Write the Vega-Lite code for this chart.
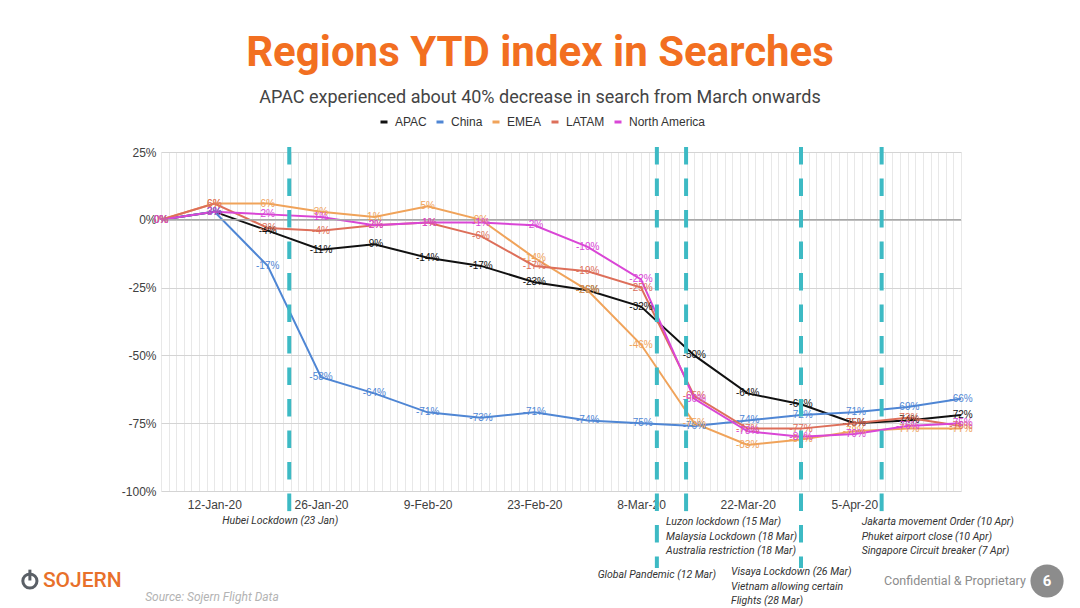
{
  "$schema": "https://vega.github.io/schema/vega-lite/v6.json",
  "width": 800,
  "height": 339,
  "autosize": {"type": "none"},
  "padding": {"left": 161, "top": 152, "right": 119, "bottom": 117},
  "background": "white",
  "title": {
    "text": "Regions YTD index in Searches",
    "subtitle": "APAC experienced about 40% decrease in search from March onwards",
    "anchor": "middle",
    "dx": -21,
    "offset": 8,
    "font": "Roboto",
    "fontSize": 42,
    "fontWeight": "bold",
    "color": "#f26f21",
    "subtitleFont": "Roboto",
    "subtitleFontSize": 18,
    "subtitleColor": "#444444",
    "subtitlePadding": 14
  },
  "config": {
    "locale": {"number": {"decimal": ".", "thousands": ",", "grouping": [3], "currency": ["$", ""], "minus": "-"}},
    "view": {"stroke": null},
    "font": "Liberation Sans",
    "legend": {
      "orient": "none",
      "legendX": 217,
      "legendY": -36,
      "direction": "horizontal",
      "symbolType": "stroke",
      "symbolSize": 49,
      "symbolStrokeWidth": 3,
      "labelFont": "Liberation Sans",
      "labelFontSize": 12,
      "labelColor": "#333333",
      "labelOffset": 5,
      "columnPadding": 3,
      "title": null
    }
  },
  "datasets": {
    "series": [
      {"date": "2020-01-05", "region": "APAC", "v": 0},
      {"date": "2020-01-12", "region": "APAC", "v": 0.03},
      {"date": "2020-01-19", "region": "APAC", "v": -0.04},
      {"date": "2020-01-26", "region": "APAC", "v": -0.11},
      {"date": "2020-02-02", "region": "APAC", "v": -0.09},
      {"date": "2020-02-09", "region": "APAC", "v": -0.14},
      {"date": "2020-02-16", "region": "APAC", "v": -0.17},
      {"date": "2020-02-23", "region": "APAC", "v": -0.23},
      {"date": "2020-03-01", "region": "APAC", "v": -0.26},
      {"date": "2020-03-08", "region": "APAC", "v": -0.32},
      {"date": "2020-03-15", "region": "APAC", "v": -0.50},
      {"date": "2020-03-22", "region": "APAC", "v": -0.64},
      {"date": "2020-03-29", "region": "APAC", "v": -0.68},
      {"date": "2020-04-05", "region": "APAC", "v": -0.75},
      {"date": "2020-04-12", "region": "APAC", "v": -0.74},
      {"date": "2020-04-19", "region": "APAC", "v": -0.72},
      {"date": "2020-01-05", "region": "China", "v": 0},
      {"date": "2020-01-12", "region": "China", "v": 0.03},
      {"date": "2020-01-19", "region": "China", "v": -0.17},
      {"date": "2020-01-26", "region": "China", "v": -0.58},
      {"date": "2020-02-02", "region": "China", "v": -0.64},
      {"date": "2020-02-09", "region": "China", "v": -0.71},
      {"date": "2020-02-16", "region": "China", "v": -0.73},
      {"date": "2020-02-23", "region": "China", "v": -0.71},
      {"date": "2020-03-01", "region": "China", "v": -0.74},
      {"date": "2020-03-08", "region": "China", "v": -0.75},
      {"date": "2020-03-15", "region": "China", "v": -0.76},
      {"date": "2020-03-22", "region": "China", "v": -0.74},
      {"date": "2020-03-29", "region": "China", "v": -0.72},
      {"date": "2020-04-05", "region": "China", "v": -0.71},
      {"date": "2020-04-12", "region": "China", "v": -0.69},
      {"date": "2020-04-19", "region": "China", "v": -0.66},
      {"date": "2020-01-05", "region": "EMEA", "v": 0},
      {"date": "2020-01-12", "region": "EMEA", "v": 0.06},
      {"date": "2020-01-19", "region": "EMEA", "v": 0.06},
      {"date": "2020-01-26", "region": "EMEA", "v": 0.03},
      {"date": "2020-02-02", "region": "EMEA", "v": 0.01},
      {"date": "2020-02-09", "region": "EMEA", "v": 0.05},
      {"date": "2020-02-16", "region": "EMEA", "v": 0.00},
      {"date": "2020-02-23", "region": "EMEA", "v": -0.14},
      {"date": "2020-03-01", "region": "EMEA", "v": -0.26},
      {"date": "2020-03-08", "region": "EMEA", "v": -0.46},
      {"date": "2020-03-15", "region": "EMEA", "v": -0.75},
      {"date": "2020-03-22", "region": "EMEA", "v": -0.83},
      {"date": "2020-03-29", "region": "EMEA", "v": -0.81},
      {"date": "2020-04-05", "region": "EMEA", "v": -0.78},
      {"date": "2020-04-12", "region": "EMEA", "v": -0.77},
      {"date": "2020-04-19", "region": "EMEA", "v": -0.77},
      {"date": "2020-01-05", "region": "LATAM", "v": 0},
      {"date": "2020-01-12", "region": "LATAM", "v": 0.06},
      {"date": "2020-01-19", "region": "LATAM", "v": -0.03},
      {"date": "2020-01-26", "region": "LATAM", "v": -0.04},
      {"date": "2020-02-02", "region": "LATAM", "v": -0.02},
      {"date": "2020-02-09", "region": "LATAM", "v": -0.01},
      {"date": "2020-02-16", "region": "LATAM", "v": -0.06},
      {"date": "2020-02-23", "region": "LATAM", "v": -0.17},
      {"date": "2020-03-01", "region": "LATAM", "v": -0.19},
      {"date": "2020-03-08", "region": "LATAM", "v": -0.25},
      {"date": "2020-03-15", "region": "LATAM", "v": -0.65},
      {"date": "2020-03-22", "region": "LATAM", "v": -0.77},
      {"date": "2020-03-29", "region": "LATAM", "v": -0.77},
      {"date": "2020-04-05", "region": "LATAM", "v": -0.75},
      {"date": "2020-04-12", "region": "LATAM", "v": -0.73},
      {"date": "2020-04-19", "region": "LATAM", "v": -0.76},
      {"date": "2020-01-05", "region": "North America", "v": 0},
      {"date": "2020-01-12", "region": "North America", "v": 0.03},
      {"date": "2020-01-19", "region": "North America", "v": 0.02},
      {"date": "2020-01-26", "region": "North America", "v": 0.01},
      {"date": "2020-02-02", "region": "North America", "v": -0.02},
      {"date": "2020-02-09", "region": "North America", "v": -0.01},
      {"date": "2020-02-16", "region": "North America", "v": -0.01},
      {"date": "2020-02-23", "region": "North America", "v": -0.02},
      {"date": "2020-03-01", "region": "North America", "v": -0.10},
      {"date": "2020-03-08", "region": "North America", "v": -0.22},
      {"date": "2020-03-15", "region": "North America", "v": -0.66},
      {"date": "2020-03-22", "region": "North America", "v": -0.78},
      {"date": "2020-03-29", "region": "North America", "v": -0.80},
      {"date": "2020-04-05", "region": "North America", "v": -0.79},
      {"date": "2020-04-12", "region": "North America", "v": -0.76},
      {"date": "2020-04-19", "region": "North America", "v": -0.75}
    ],
    "events": [
      {"key": "hubei", "date": "2020-01-21T20:00:00Z", "note": "Hubei Lockdown (23 Jan)"},
      {"key": "global", "date": "2020-03-10T02:00:00Z", "note": "Global Pandemic (12 Mar)"},
      {"key": "luzon", "date": "2020-03-13T22:00:00Z", "note": "Luzon lockdown (15 Mar)\nMalaysia Lockdown (18 Mar)\nAustralia restriction (18 Mar)"},
      {"key": "visaya", "date": "2020-03-29T00:00:00Z", "note": "Visaya Lockdown (26 Mar)\nVietnam allowing certain\nFlights (28 Mar)"},
      {"key": "jakarta", "date": "2020-04-08T14:00:00Z", "note": "Jakarta movement Order (10 Apr)\nPhuket airport close (10 Apr)\nSingapore Circuit breaker (7 Apr)"}
    ],
    "one": [{}]
  },
  "resolve": {"legend": {"color": "independent"}},
  "layer": [
    {
      "data": {"name": "series"},
      "mark": {"type": "line", "strokeWidth": 2},
      "encoding": {
        "x": {
          "field": "date",
          "type": "temporal",
          "scale": {
            "type": "utc",
            "domain": [
              {"year": 2020, "month": 1, "date": 5, "utc": true},
              {"year": 2020, "month": 4, "date": 19, "utc": true}
            ],
            "nice": false
          },
          "axis": {
            "title": null,
            "tickCount": {"interval": "day", "step": 1},
            "labelExpr": "(datum.value < 1587254400000 && round((datum.value - 1578787200000) / 86400000) % 14 === 0) ? utcFormat(datum.value, '%-d-%b-%y') : ''",
            "labelOverlap": false,
            "labelFlush": false,
            "labelBound": false,
            "labelFont": "Liberation Sans",
            "labelFontSize": 12,
            "labelColor": "#404040",
            "labelPadding": 8,
            "ticks": false,
            "domain": false,
            "grid": true,
            "gridColor": "#e8e8e8",
            "gridWidth": 1
          }
        },
        "y": {
          "field": "v",
          "type": "quantitative",
          "scale": {"domain": [-1, 0.25], "nice": false, "zero": false},
          "axis": {
            "title": null,
            "values": [-1, -0.75, -0.5, -0.25, 0, 0.25],
            "format": ".0%",
            "labelFont": "Liberation Sans",
            "labelFontSize": 12,
            "labelColor": "#404040",
            "labelPadding": 5,
            "ticks": false,
            "domain": false,
            "gridColor": "#d4d4d4",
            "gridWidth": 1
          }
        },
        "color": {
          "field": "region",
          "type": "nominal",
          "scale": {
            "domain": ["APAC", "China", "EMEA", "LATAM", "North America"],
            "range": ["#111111", "#4f86d4", "#f0a35a", "#dd6f5a", "#d946d6"]
          }
        },
        "strokeWidth": {"condition": {"test": "datum.region === 'APAC'", "value": 2.6}, "value": 2}
      }
    },
    {
      "data": {"name": "one"},
      "mark": {"type": "rule", "color": "#a8a8a8", "strokeWidth": 1.5},
      "encoding": {"y": {"datum": 0, "type": "quantitative"}}
    },
    {
      "data": {"name": "series"},
      "mark": {"type": "line", "strokeWidth": 2.6, "color": "#111111"},
      "transform": [{"filter": "datum.region === 'APAC' && datum.date >= '2020-03-08'"}],
      "encoding": {
        "x": {"field": "date", "type": "temporal"},
        "y": {"field": "v", "type": "quantitative"}
      }
    },
    {
      "data": {"name": "series"},
      "mark": {"type": "text", "fontSize": 10, "font": "Liberation Sans", "baseline": "middle", "align": "center"},
      "encoding": {
        "x": {"field": "date", "type": "temporal"},
        "y": {"field": "v", "type": "quantitative"},
        "text": {"field": "v", "type": "quantitative", "format": ".0%"},
        "color": {"field": "region", "type": "nominal", "legend": null}
      }
    },
    {
      "data": {"name": "events"},
      "transform": [{"filter": "datum.key === 'hubei' || datum.key === 'luzon' || datum.key === 'jakarta'"}],
      "mark": {"type": "rule", "color": "#3dbac4", "strokeWidth": 4, "strokeDash": [17.5, 14]},
      "encoding": {
        "x": {"field": "date", "type": "temporal"},
        "y": {"datum": 0.268, "type": "quantitative"},
        "y2": {"datum": -1.077}
      }
    },
    {
      "data": {"name": "events"},
      "transform": [{"filter": "datum.key === 'global' || datum.key === 'visaya'"}],
      "mark": {"type": "rule", "color": "#3dbac4", "strokeWidth": 4, "strokeDash": [17.5, 14]},
      "encoding": {
        "x": {"field": "date", "type": "temporal"},
        "y": {"datum": 0.268, "type": "quantitative"},
        "y2": {"datum": -1.284}
      }
    },
    {
      "data": {"name": "events"},
      "transform": [{"filter": "datum.key === 'hubei'"}],
      "mark": {"type": "text", "font": "Roboto", "fontStyle": "italic", "fontSize": 10.5, "color": "#333333", "align": "center", "baseline": "middle", "dx": -9},
      "encoding": {
        "x": {"field": "date", "type": "temporal"},
        "y": {"datum": -1.111, "type": "quantitative"},
        "text": {"field": "note"}
      }
    },
    {
      "data": {"name": "events"},
      "transform": [{"filter": "datum.key === 'global'"}],
      "mark": {"type": "text", "font": "Roboto", "fontStyle": "italic", "fontSize": 10.5, "color": "#333333", "align": "center", "baseline": "middle"},
      "encoding": {
        "x": {"field": "date", "type": "temporal"},
        "y": {"datum": -1.31, "type": "quantitative"},
        "text": {"field": "note"}
      }
    },
    {
      "data": {"name": "events"},
      "transform": [{"filter": "datum.key === 'luzon' || datum.key === 'jakarta'"}],
      "mark": {"type": "text", "font": "Roboto", "fontStyle": "italic", "fontSize": 10.5, "color": "#333333", "align": "left", "baseline": "top", "dx": -20, "lineBreak": "\n", "lineHeight": 14.5},
      "encoding": {
        "x": {"field": "date", "type": "temporal"},
        "y": {"datum": -1.097, "type": "quantitative"},
        "text": {"field": "note"}
      }
    },
    {
      "data": {"name": "events"},
      "transform": [{"filter": "datum.key === 'visaya'"}],
      "mark": {"type": "text", "font": "Roboto", "fontStyle": "italic", "fontSize": 10.5, "color": "#333333", "align": "left", "baseline": "top", "dx": -70, "lineBreak": "\n", "lineHeight": 14.5},
      "encoding": {
        "x": {"field": "date", "type": "temporal"},
        "y": {"datum": -1.281, "type": "quantitative"},
        "text": {"field": "note"}
      }
    },
    {
      "data": {"name": "one"},
      "mark": {"type": "point", "shape": "circle", "filled": false, "stroke": "#5a5f66", "strokeWidth": 3, "size": 200, "opacity": 1},
      "encoding": {
        "x": {"datum": {"year": 2019, "month": 12, "date": 18, "hours": 19, "utc": true}, "type": "temporal"},
        "y": {"datum": -1.332, "type": "quantitative"}
      }
    },
    {
      "data": {"name": "one"},
      "mark": {"type": "rule", "stroke": "#5a5f66", "strokeWidth": 3},
      "encoding": {
        "x": {"datum": {"year": 2019, "month": 12, "date": 18, "hours": 19, "utc": true}, "type": "temporal"},
        "y": {"datum": -1.29, "type": "quantitative"},
        "y2": {"datum": -1.33}
      }
    },
    {
      "data": {"name": "one"},
      "mark": {"type": "text", "font": "Roboto", "fontSize": 21, "fontWeight": 500, "color": "#e8702a", "align": "left", "baseline": "middle"},
      "encoding": {
        "x": {"datum": {"year": 2019, "month": 12, "date": 20, "hours": 12, "utc": true}, "type": "temporal"},
        "y": {"datum": -1.332, "type": "quantitative"},
        "text": {"value": "SOJERN"}
      }
    },
    {
      "data": {"name": "one"},
      "mark": {"type": "text", "font": "Roboto", "fontStyle": "italic", "fontSize": 12, "color": "#b3b3b3", "align": "left", "baseline": "middle"},
      "encoding": {
        "x": {"datum": {"year": 2020, "month": 1, "date": 2, "hours": 22, "utc": true}, "type": "temporal"},
        "y": {"datum": -1.391, "type": "quantitative"},
        "text": {"value": "Source: Sojern Flight Data"}
      }
    },
    {
      "data": {"name": "one"},
      "mark": {"type": "text", "font": "Roboto", "fontSize": 12.5, "color": "#8c8c8c", "align": "center", "baseline": "middle"},
      "encoding": {
        "x": {"datum": {"year": 2020, "month": 4, "date": 18, "hours": 5, "utc": true}, "type": "temporal"},
        "y": {"datum": -1.332, "type": "quantitative"},
        "text": {"value": "Confidential & Proprietary"}
      }
    },
    {
      "data": {"name": "one"},
      "mark": {"type": "point", "shape": "circle", "filled": true, "color": "#8c8c8c", "opacity": 1, "size": 1100},
      "encoding": {
        "x": {"datum": {"year": 2020, "month": 4, "date": 30, "hours": 7, "utc": true}, "type": "temporal"},
        "y": {"datum": -1.332, "type": "quantitative"}
      }
    },
    {
      "data": {"name": "one"},
      "mark": {"type": "text", "font": "Roboto", "fontSize": 15, "fontWeight": "bold", "color": "#ffffff", "align": "center", "baseline": "middle"},
      "encoding": {
        "x": {"datum": {"year": 2020, "month": 4, "date": 30, "hours": 7, "utc": true}, "type": "temporal"},
        "y": {"datum": -1.332, "type": "quantitative"},
        "text": {"value": "6"}
      }
    }
  ]
}
